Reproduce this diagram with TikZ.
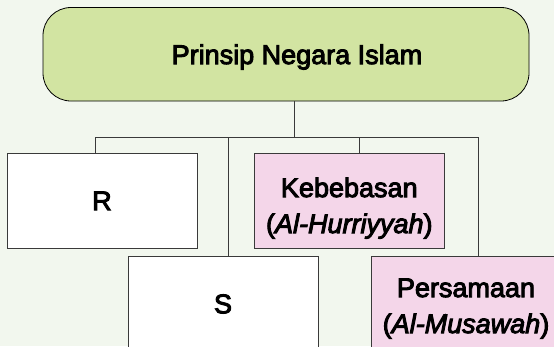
\documentclass[tikz,border=0pt]{standalone}
\usepackage{fontspec}
\setmainfont{Liberation Sans}[UprightFeatures={FakeBold=3.5},ItalicFeatures={FakeBold=3.5}]
\definecolor{bgfill}{HTML}{F2F7EE}
\definecolor{headfill}{HTML}{D2E4A2}
\definecolor{pinkfill}{HTML}{F4D6E9}
\definecolor{wirecol}{HTML}{3A3A3A}
\newcommand{\lowtext}[2]{%
  \raisebox{-#1}[\height][\depth]{\begin{tabular}{@{}c@{}}#2\end{tabular}}}

\begin{document}
\begin{tikzpicture}[x=1pt,y=-1pt,
    headbox/.style={draw=black,line width=0.8pt,fill=headfill,rounded corners=28pt,
      minimum width=486pt,minimum height=93.5pt,inner sep=0pt,text depth=0pt,
      font=\fontsize{27}{36}\selectfont},
    leafbox/.style={draw=wirecol,line width=0.8pt,minimum width=190pt,
      minimum height=94.3pt,inner sep=0pt,font=\fontsize{27}{36}\selectfont},
    wire/.style={draw=wirecol,line width=0.8pt}]
    \clip (0,0) rectangle (554,346);
    \fill[bgfill] (0,0) rectangle (554,346);
    % ---- head box ----
    \node[headbox] (head) at (286,54.25) {\hspace*{22pt}Prinsip Negara Islam};
    % ---- upper row ----
    \node[leafbox,fill=white,text depth=0pt]    (r)   at (102,200.85) {R};
    \node[leafbox,fill=pinkfill] (keb) at (349.3,200.85)
      {\lowtext{7pt}{Kebebasan\\(\textit{Al-Hurriyyah})}};
    % ---- lower row ----
    \node[leafbox,fill=white,text depth=0pt]    (s)    at (223,303.85) {S};
    \node[leafbox,fill=pinkfill] (pers) at (466,303.85)
      {\lowtext{4pt}{Persamaan\\(\textit{Al-Musawah})}};
    % ---- connectors ----
    \coordinate (hub)  at (294,137);
    \coordinate (busR) at (95,137);
    \coordinate (busS) at (228,137);
    \coordinate (busK) at (359,137);
    \coordinate (busP) at (478,137);
    \draw[wire] (head.south -| hub) -- (hub);
    \draw[wire] (busR) -- (busP);
    \foreach \c/\n in {busR/r,busS/s,busK/keb,busP/pers}{
      \draw[wire] (\c) -- (\c |- \n.north);}
  \end{tikzpicture}
\end{document}
